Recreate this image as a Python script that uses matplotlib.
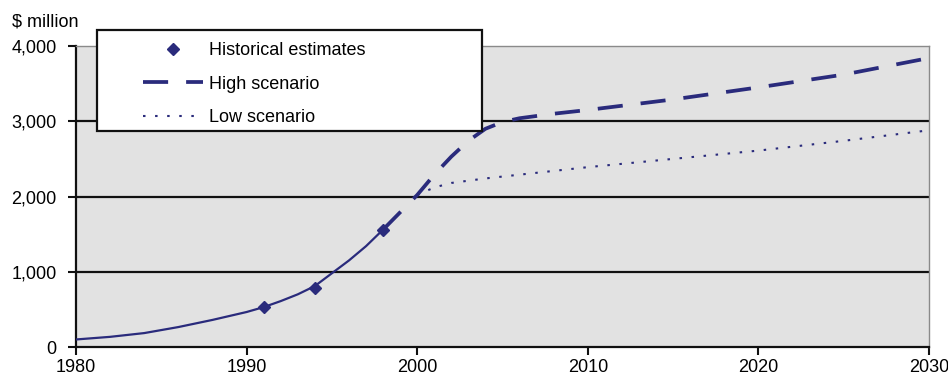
import matplotlib
matplotlib.use("Agg")
import matplotlib.pyplot as plt
from matplotlib.patches import Rectangle

plt.rcParams['font.family'] = ['Liberation Sans', 'DejaVu Sans']

# ---- data ----
hist_years = [1991, 1994, 1998]
hist_values = [530, 790, 1560]

base_years = [1980, 1982, 1984, 1986, 1988, 1990, 1991, 1992, 1993, 1994, 1995, 1996, 1997, 1998]
base_values = [100, 135, 185, 265, 360, 465, 530, 610, 700, 810, 980, 1150, 1340, 1560]

high_years = [1998, 1999, 2000, 2001, 2002, 2003, 2004, 2005, 2006, 2008, 2010, 2015, 2020, 2025, 2030]
high_values = [1560, 1790, 2020, 2290, 2530, 2740, 2900, 2990, 3040, 3100, 3150, 3290, 3450, 3620, 3840]

low_years = [2000, 2001, 2002, 2004, 2006, 2008, 2010, 2015, 2020, 2025, 2030]
low_values = [2020, 2120, 2180, 2240, 2290, 2340, 2390, 2500, 2610, 2740, 2880]

x_ticks = [1980, 1990, 2000, 2010, 2020, 2030]
y_ticks = [0, 1000, 2000, 3000, 4000]
y_tick_labels = ["0", "1,000", "2,000", "3,000", "4,000"]

labels = ["Historical estimates", "High scenario", "Low scenario"]
unit_label = "\\$ million"

navy = "#2a2b7c"
FS = 13

fig = plt.figure(figsize=(9.48, 3.83), dpi=100)
ax = fig.add_axes([76/948, 1-347/383, (929-76)/948, (347-46)/383])
ax.set_facecolor("#e2e2e2")

# gridlines
for v in y_ticks[1:-1]:
    ax.axhline(v, color="#111111", lw=1.6, zorder=1)

ax.plot(base_years, base_values, color=navy, lw=1.6, zorder=3)
high_line, = ax.plot(high_years, high_values, color=navy, lw=2.7,
                     linestyle=(0, (6.7, 4.8)), zorder=3)
low_line, = ax.plot(low_years, low_values, color=navy, lw=1.5,
                    linestyle=(0, (1.2, 4.6)), zorder=3)
hist_pts, = ax.plot(hist_years, hist_values, linestyle="none", marker="D",
                    ms=6.5, color=navy, zorder=4)

ax.set_xlim(1980, 2030)
ax.set_ylim(0, 4000)
ax.set_xticks(x_ticks)
ax.set_xticklabels([str(t) for t in x_ticks])
ax.set_yticks(y_ticks)
ax.set_yticklabels(y_tick_labels)
ax.tick_params(axis='y', direction='out', length=6, width=1.5, pad=8, labelsize=FS, color="#111111")
ax.tick_params(axis='x', direction='out', length=6, width=1.5, pad=3, labelsize=FS, color="#111111")

for s in ["left", "bottom"]:
    ax.spines[s].set_color("#111111")
    ax.spines[s].set_linewidth(1.6)
for s in ["top", "right"]:
    ax.spines[s].set_color("#8a8a8a")
    ax.spines[s].set_linewidth(1.0)

fig.text(12/948, 1-22/383, unit_label, ha="left", va="center", fontsize=FS)

# legend box
box = Rectangle((97/948, 1-131/383), (482-97)/948, (131-30)/383,
                transform=fig.transFigure, facecolor="white", edgecolor="#111111",
                lw=1.6, zorder=4)
fig.add_artist(box)

leg = fig.legend([hist_pts, high_line, low_line], labels,
                 loc="upper left", bbox_to_anchor=(143/948, 1-42/383),
                 frameon=False, borderpad=0, borderaxespad=0,
                 handlelength=3.33, handletextpad=0.33, labelspacing=0.92,
                 fontsize=FS, numpoints=1)
leg.set_zorder(6)

fig.savefig("out.png", dpi=100)
